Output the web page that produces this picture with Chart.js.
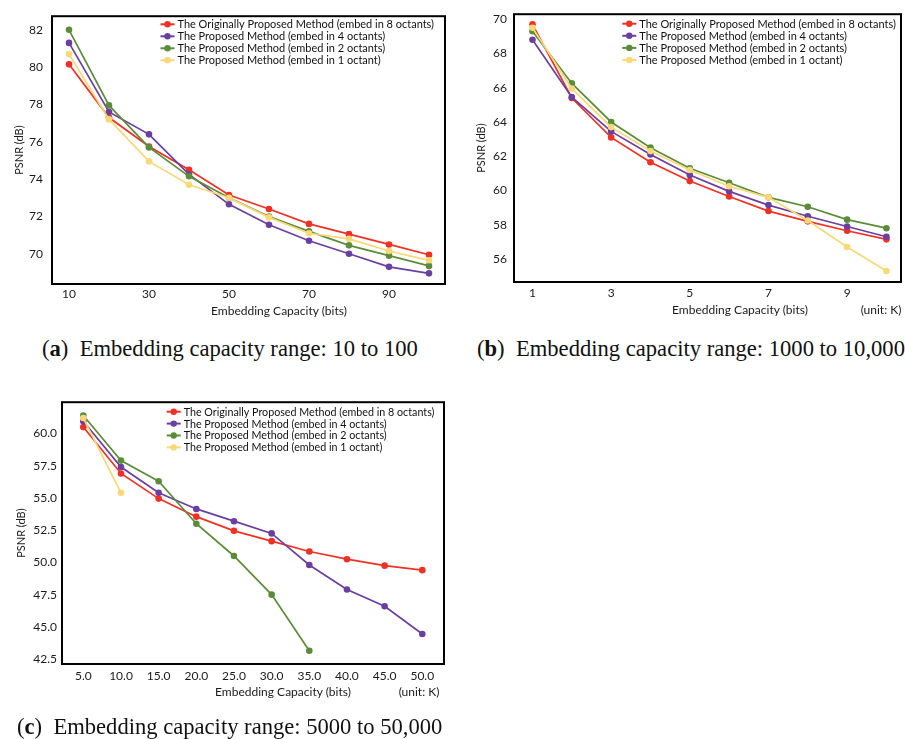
<!DOCTYPE html>
<html><head><meta charset="utf-8">
<script src="https://cdn.jsdelivr.net/npm/chart.js@4.4.0/dist/chart.umd.min.js"></script>
<style>
html,body{margin:0;padding:0;background:#fff;width:905px;height:739px;overflow:hidden;position:relative}
canvas{position:absolute;display:block}
.xt{position:absolute;font-family:Lato,sans-serif;font-size:12px;color:#1a1a1a;white-space:nowrap;transform:translate(-50%,-50%)}
.cap{position:absolute;font-family:'Liberation Serif',serif;font-size:22.6px;color:#111;white-space:nowrap;transform:translateY(-50%)}
</style></head><body>
<canvas id="ca" style="left:0;top:0;width:452px;height:330px" width="452" height="330"></canvas>
<canvas id="cb" style="left:452px;top:0;width:453px;height:330px" width="453" height="330"></canvas>
<canvas id="cc" style="left:0;top:390px;width:452px;height:300px" width="452" height="300"></canvas>
<div class="xt" style="left:279px;top:310px">Embedding Capacity (bits)</div>
<div class="xt" style="left:740px;top:309px">Embedding Capacity (bits)</div>
<div class="xt" style="left:881px;top:309px">(unit: K)</div>
<div class="xt" style="left:283px;top:691px">Embedding Capacity (bits)</div>
<div class="xt" style="left:419px;top:691px">(unit: K)</div>
<div class="cap" style="left:42px;top:349px">(<b>a</b>)&nbsp; Embedding capacity range: 10 to 100</div>
<div class="cap" style="left:477px;top:349px">(<b>b</b>)&nbsp; Embedding capacity range: 1000 to 10,000</div>
<div class="cap" style="left:17px;top:727px">(<b>c</b>)&nbsp; Embedding capacity range: 5000 to 50,000</div>
<script>
const seriesLabels = [
  "The Originally Proposed Method (embed in 8 octants)",
  "The Proposed Method (embed in 4 octants)",
  "The Proposed Method (embed in 2 octants)",
  "The Proposed Method (embed in 1 octant)"
];
const seriesColors = ['#EE3124', '#6B3FA0', '#5B8C3A', '#F9D878'];

// (a) 10 to 100 bits
const capA = [10, 20, 30, 40, 50, 60, 70, 80, 90, 100];
const a8 = [80.15, 77.3, 75.75, 74.5, 73.15, 72.4, 71.6, 71.05, 70.5, 69.95];
const a4 = [81.3, 77.6, 76.4, 74.25, 72.65, 71.55, 70.7, 70.0, 69.3, 68.95];
const a2 = [82.0, 77.95, 75.7, 74.15, 73.0, 72.0, 71.2, 70.45, 69.9, 69.35];
const a1 = [80.7, 77.2, 74.95, 73.7, 73.0, 71.95, 71.1, 70.8, 70.15, 69.65];
const xTicksA = [10, 30, 50, 70, 90];
const yTicksA = [70, 72, 74, 76, 78, 80, 82];

// (b) 1K to 10K
const capB = [1, 2, 3, 4, 5, 6, 7, 8, 9, 10];
const b8 = [69.7, 65.4, 63.1, 61.65, 60.55, 59.65, 58.8, 58.2, 57.65, 57.15];
const b4 = [68.8, 65.45, 63.45, 62.1, 60.9, 59.95, 59.15, 58.5, 57.9, 57.3];
const b2 = [69.3, 66.25, 64.0, 62.5, 61.3, 60.45, 59.6, 59.05, 58.3, 57.8];
const b1 = [69.5, 65.95, 63.7, 62.3, 61.2, 60.25, 59.6, 58.25, 56.7, 55.3];
const xTicksB = [1, 3, 5, 7, 9];
const yTicksB = [56, 58, 60, 62, 64, 66, 68, 70];

// (c) 5K to 50K
const capC = [5, 10, 15, 20, 25, 30, 35, 40, 45, 50];
const c8 = [60.5, 56.9, 54.95, 53.55, 52.45, 51.65, 50.85, 50.25, 49.75, 49.4];
const c4 = [60.95, 57.4, 55.4, 54.15, 53.2, 52.25, 49.8, 47.9, 46.6, 44.45];
const c2 = [61.4, 57.9, 56.3, 53.0, 50.5, 47.5, 43.15, null, null, null];
const c1 = [61.2, 55.4, null, null, null, null, null, null, null, null];
const xTicksC = [5, 10, 15, 20, 25, 30, 35, 40, 45, 50];
const yTicksC = [42.5, 45, 47.5, 50, 52.5, 55, 57.5, 60];

const FONT = 'Lato';

const framePlugin = {
  id: 'frame',
  afterDraw(chart) {
    const {ctx, chartArea: a} = chart;
    ctx.save();
    ctx.strokeStyle = '#000';
    ctx.lineWidth = 2;
    ctx.strokeRect(a.left, a.top, a.right - a.left, a.bottom - a.top);
    ctx.restore();
  }
};

const legendPlugin = {
  id: 'inlegend',
  afterDraw(chart, args, o) {
    const ctx = chart.ctx;
    ctx.save();
    ctx.font = '10px ' + FONT;
    const w10 = ctx.measureText(chart.data.datasets[0].label).width;
    const size = 10 * o.width / w10;
    ctx.font = size + 'px ' + FONT;
    ctx.textBaseline = 'middle';
    chart.data.datasets.forEach((ds, i) => {
      const y = o.y + i * o.gap;
      ctx.strokeStyle = ds.borderColor;
      ctx.lineWidth = 2;
      ctx.beginPath(); ctx.moveTo(o.x - 17, y); ctx.lineTo(o.x - 3, y); ctx.stroke();
      ctx.fillStyle = ds.borderColor;
      ctx.beginPath(); ctx.arc(o.x - 10, y, 3.2, 0, Math.PI * 2); ctx.fill();
      ctx.fillStyle = '#111';
      ctx.fillText(ds.label, o.x, y + 0.5);
    });
    ctx.restore();
  }
};

function makeChart(id, cfg) {
  const canvas = document.getElementById(id);
  const W = canvas.width, H = canvas.height;
  const datasets = cfg.series.map((vals, i) => ({
    label: seriesLabels[i],
    data: cfg.x.map((x, j) => ({x: x, y: vals[j]})),
    borderColor: seriesColors[i],
    backgroundColor: seriesColors[i],
    pointBackgroundColor: seriesColors[i],
    pointBorderWidth: 0,
    pointRadius: 3.3,
    borderWidth: 1.7,
    tension: 0,
    spanGaps: false,
    order: 4 - i
  }));
  return new Chart(canvas, {
    type: 'line',
    data: {datasets},
    plugins: [framePlugin, legendPlugin],
    options: {
      responsive: false,
      animation: false,
      events: [],
      layout: {padding: {top: cfg.area[1], right: W - cfg.area[2], left: 0, bottom: 0}},
      plugins: {
        legend: {display: false},
        tooltip: {enabled: false},
        inlegend: cfg.legend
      },
      scales: {
        x: {
          type: 'linear',
          min: cfg.xmin, max: cfg.xmax,
          grid: {display: false, drawTicks: false},
          border: {display: false},
          afterFit: s => { s.height = H - cfg.area[3]; },
          afterBuildTicks: s => { s.ticks = cfg.xTicks.map(v => ({value: v})); },
          ticks: {
            padding: cfg.xpad, color: '#1a1a1a', maxRotation: 0, autoSkip: false,
            font: {family: FONT, size: 12},
            callback: v => cfg.xfmt(v)
          }
        },
        y: {
          type: 'linear',
          min: cfg.ymin, max: cfg.ymax,
          grid: {display: false, drawTicks: false},
          border: {display: false},
          afterFit: s => { s.width = cfg.area[0]; },
          afterBuildTicks: s => { s.ticks = cfg.yTicks.map(v => ({value: v})); },
          ticks: {
            padding: cfg.ypad, color: '#1a1a1a',
            font: {family: FONT, size: 12},
            callback: v => cfg.yfmt(v)
          },
          title: {
            display: true, text: 'PSNR (dB)', color: '#1a1a1a',
            font: {family: FONT, size: 11},
            padding: {top: cfg.ytitlePad, bottom: 0}
          }
        }
      }
    }
  });
}

makeChart('ca', {
  x: capA, series: [a8, a4, a2, a1],
  area: [52, 10, 445, 284],
  xmin: 5.75, xmax: 104, ymin: 68.38, ymax: 82.73,
  xTicks: xTicksA, yTicks: yTicksA,
  xfmt: v => String(v), yfmt: v => String(v),
  xpad: 3, ypad: 9, ytitlePad: 12.4,
  legend: {x: 177.5, y: 24.3, gap: 12, width: 257}
});

makeChart('cb', {
  x: capB, series: [b8, b4, b2, b1],
  area: [62, 10, 452, 282],
  xmin: 0.53, xmax: 10.37, ymin: 54.66, ymax: 70.29,
  xTicks: xTicksB, yTicks: yTicksB,
  xfmt: v => String(v), yfmt: v => String(v),
  xpad: 4, ypad: 7, ytitlePad: 23,
  legend: {x: 187.3, y: 23.7, gap: 12.1, width: 257}
});

makeChart('cc', {
  x: capC, series: [c8, c4, c2, c1],
  area: [62, 9, 444, 274],
  xmin: 2.17, xmax: 52.88, ymin: 42.12, ymax: 62.43,
  xTicks: xTicksC, yTicks: yTicksC,
  xfmt: v => v.toFixed(1), yfmt: v => v.toFixed(1),
  xpad: 5, ypad: 5, ytitlePad: 15,
  legend: {x: 183.7, y: 21.7, gap: 11.9, width: 251}
});
</script>
</body></html>
